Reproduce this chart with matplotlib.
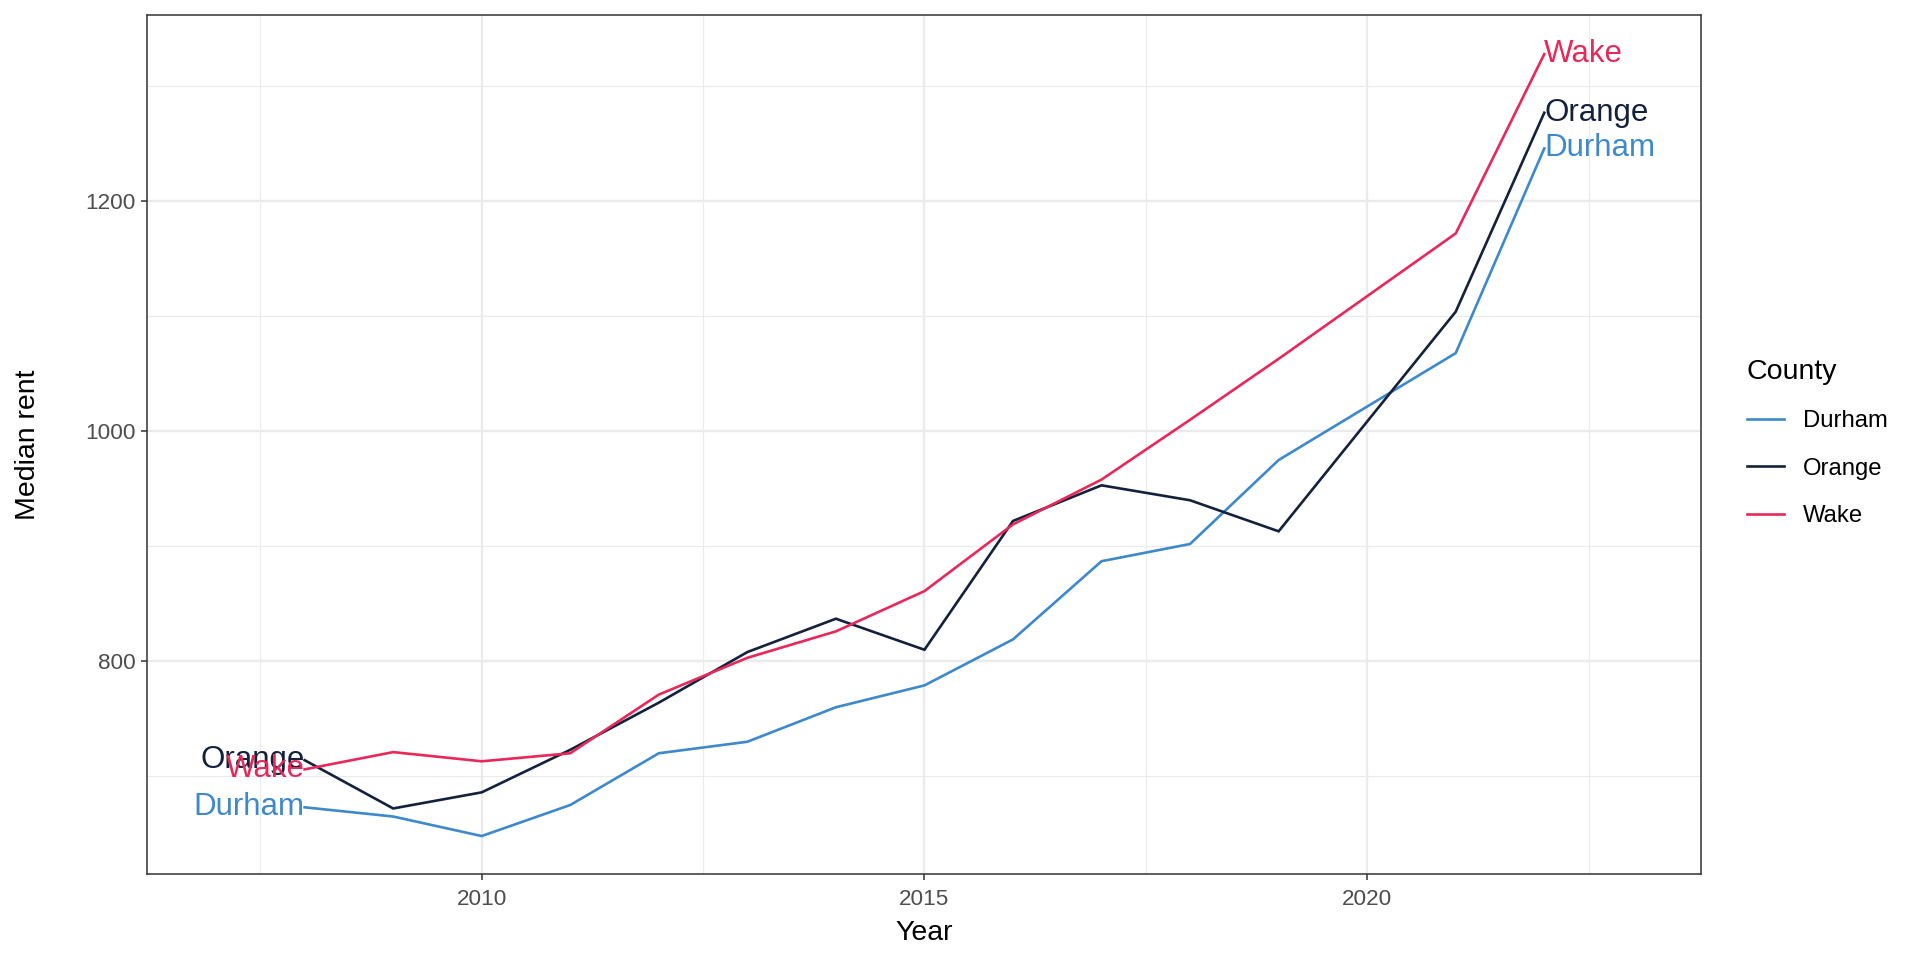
import matplotlib
matplotlib.use("Agg")
import matplotlib.pyplot as plt
from matplotlib.ticker import FixedLocator

plt.rcParams['font.family'] = ['Liberation Sans', 'DejaVu Sans']

years = [2008, 2009, 2010, 2011, 2012, 2013, 2014, 2015, 2016, 2017, 2018, 2019, 2021, 2022]
durham = [673, 665, 648, 675, 720, 730, 760, 779, 819, 887, 902, 975, 1068, 1246]
orange = [714, 672, 686, 723, 764, 808, 837, 810, 922, 953, 940, 913, 1104, 1277]
wake = [706, 721, 713, 720, 771, 803, 826, 861, 919, 958, 1010, 1063, 1172, 1328]

counties = ["Durham", "Orange", "Wake"]
series = {"Durham": durham, "Orange": orange, "Wake": wake}
colors = {"Durham": "#3D89CC", "Orange": "#14213D", "Wake": "#E9285A"}

x_major = [2010, 2015, 2020]
x_minor = [2007.5, 2012.5, 2017.5, 2022.5]
y_major = [800, 1000, 1200]
y_minor = [700, 900, 1100, 1300]

fig = plt.figure(figsize=(19.2, 9.6), dpi=100)
ax = fig.add_axes([147/1920, 1-874/960, (1701-147)/1920, (874-15)/960])

for c in counties:
    ax.plot(years, series[c], color=colors[c], lw=1.9, label=c, zorder=3, solid_joinstyle='miter')
    ax.text(years[0], series[c][0], c, color=colors[c], fontsize=22.5, ha='right', va='center', zorder=4)
    ax.text(years[-1], series[c][-1], c, color=colors[c], fontsize=22.5, ha='left', va='center', zorder=4)

ax.set_xlim(2006.22, 2023.77)
ax.set_ylim(615, 1362)
ax.xaxis.set_major_locator(FixedLocator(x_major))
ax.xaxis.set_minor_locator(FixedLocator(x_minor))
ax.yaxis.set_major_locator(FixedLocator(y_major))
ax.yaxis.set_minor_locator(FixedLocator(y_minor))
ax.grid(which='major', color='#EBEBEB', lw=1.7, zorder=0)
ax.grid(which='minor', color='#EBEBEB', lw=0.85, zorder=0)
ax.set_axisbelow(True)
ax.tick_params(which='major', length=4, width=1.1, color='#333333', labelsize=16.2,
               labelcolor='#4D4D4D')
ax.tick_params(axis='x', which='major', pad=7)
ax.tick_params(axis='y', which='major', pad=4)
ax.tick_params(which='minor', length=0)
for s in ax.spines.values():
    s.set_color('#333333')
    s.set_linewidth(1.1)
ax.set_xlabel("Year", fontsize=20.5, labelpad=7)
ax.set_ylabel("Median rent", fontsize=20.5, labelpad=32)

leg = ax.legend(title="County", loc='upper left', bbox_to_anchor=(1747/1920, 1-359/960),
                bbox_transform=fig.transFigure, frameon=False, fontsize=17.2,
                title_fontsize=20.5, handlelength=1.55, handletextpad=0.8,
                labelspacing=1.06, borderpad=0, borderaxespad=0, alignment='left')

fig.savefig("out.png", dpi=100, facecolor='white')
